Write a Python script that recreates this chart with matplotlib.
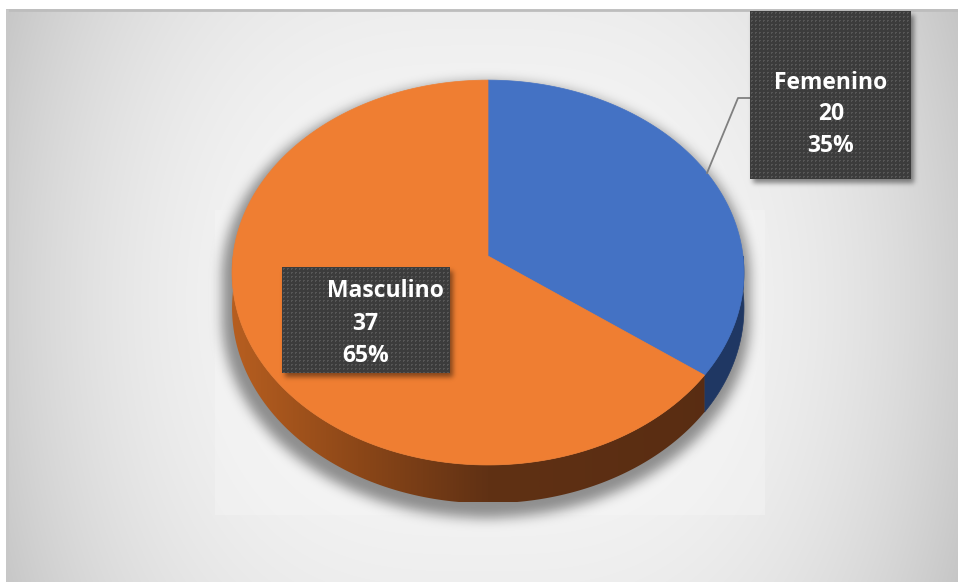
import numpy as np
import matplotlib.pyplot as plt
from matplotlib.patches import Polygon, Rectangle
from matplotlib.colors import LinearSegmentedColormap

labels = ["Femenino", "Masculino"]
counts = [20, 37]
pct_labels = ["35%", "65%"]
top_colors = ["#4472C4", "#EF7E32"]

W, H = 958, 582
fig = plt.figure(figsize=(W / 100, H / 100), dpi=100)
ax = fig.add_axes([0, 0, 1, 1])
ax.set_xlim(0, W)
ax.set_ylim(H, 0)
ax.axis("off")


def blur(img, sigma):
    r = int(3 * sigma)
    kern = np.exp(-np.arange(-r, r + 1) ** 2 / (2 * sigma ** 2))
    kern /= kern.sum()
    img = np.apply_along_axis(lambda m: np.convolve(m, kern, mode="same"), 0, img)
    img = np.apply_along_axis(lambda m: np.convolve(m, kern, mode="same"), 1, img)
    return img


# chart background: light centre fading to grey at the sides
yy, xx = np.mgrid[0:H, 0:W] + 0.5
gx = np.abs(xx - 480) / 480
gy = np.abs(yy - 300) / 300
shade = 0.97 - 0.16 * gx ** 3 - 0.04 * gy ** 2
ax.imshow(np.dstack([shade] * 3), extent=(0, W, H, 0), zorder=0, interpolation="bilinear")
ax.add_patch(Rectangle((0, 0), W, 9, fc="white", ec="none", zorder=0.5))
ax.add_patch(Rectangle((0, 0), 6, H, fc="white", ec="none", zorder=0.5))
ax.plot([6, W], [10, 10], color="#bdbdbd", lw=2, zorder=0.6, solid_capstyle="butt")
ax.plot([7, 7], [9, H], color="#c8c8c8", lw=2, zorder=0.6, solid_capstyle="butt")

# plot area
ax.add_patch(Rectangle((215, 210), 550, 305, fc="#f7f7f7", ec="none", alpha=0.4, zorder=1))

# 3D pie with slight perspective
cx, cy = 488, 256
a, b, k, depth = 255, 191, 0.086, 35


def proj(theta_deg, h=0.0):
    t = np.radians(theta_deg)
    s = 1 / (1 + k * np.sin(t))
    return cx + s * a * np.cos(t), cy - s * b * np.sin(t) + s * h


fracs = np.array(counts) / sum(counts)
edges = 90 - 360 * np.concatenate([[0], np.cumsum(fracs)])

# soft shadow round the pie
mask = np.zeros((H, W))
t_all = np.linspace(0, 360, 400)
for h in np.linspace(0, depth + 6, 12):
    px, py = proj(t_all, h)
    rx = (px.max() - px.min()) / 2 + 8
    ry = (py.max() - py.min()) / 2 + 3
    ex = (px.max() + px.min()) / 2 - 2
    ey = (py.max() + py.min()) / 2 + 5
    mask = np.maximum(mask, (((xx - ex) / rx) ** 2 + ((yy - ey) / ry) ** 2 <= 1).astype(float))
sh = blur(mask, 6)
shadow = np.zeros((H, W, 4))
shadow[..., 3] = sh * 0.42
ax.imshow(shadow, extent=(0, W, H, 0), zorder=2, interpolation="bilinear")

# side walls
side_cmap = LinearSegmentedColormap.from_list(
    "side", [(0, "#b85f20"), (0.25, "#8c4718"), (0.5, "#603114"), (1, "#582c12")]
)
for i in range(len(counts)):
    hi, lo = edges[i], edges[i + 1]
    lo_s, hi_s = max(lo, -180), min(hi, 0)
    if lo_s >= hi_s:
        continue
    t = np.linspace(lo_s, hi_s, 200)
    tx, ty = proj(t)
    bx, by = proj(t[::-1], depth)
    pts = np.column_stack([np.concatenate([tx, bx]), np.concatenate([ty, by])])
    if i == 0:
        ax.add_patch(Polygon(pts, closed=True, fc="#1f3763", ec="#1f3763", lw=0.5, zorder=3))
    else:
        wall = Polygon(pts, closed=True, fc="none", ec="none", zorder=3)
        ax.add_patch(wall)
        grad = np.linspace(0, 1, 512).reshape(1, -1)
        im = ax.imshow(grad, cmap=side_cmap, extent=(cx - a - 5, cx + a + 5, cy + b + depth + 20, cy - 10),
                       aspect="auto", zorder=3, interpolation="bilinear")
        im.set_clip_path(wall)

# top face
for i in range(len(counts)):
    t = np.linspace(edges[i], edges[i + 1], 300)
    tx, ty = proj(t)
    pts = np.column_stack([np.concatenate([[cx], tx]), np.concatenate([[cy], ty])])
    ax.add_patch(Polygon(pts, closed=True, fc=top_colors[i], ec=top_colors[i], lw=0.5, zorder=4))

# leader line for the Femenino label
mid0 = (edges[0] + edges[1]) / 2
lx, ly = proj(mid0)
ax.plot([750, 738, lx], [98, 98, ly], color="#808080", lw=1.3, zorder=5)

# data label boxes
boxes = [(750, 11, 161, 168), (282, 267, 168, 106)]
bmask = np.zeros((H, W))
for bx0, by0, bw, bh in boxes:
    bmask[by0 + 4:by0 + bh + 4, bx0 + 3:bx0 + bw + 3] = 1
bsh = np.zeros((H, W, 4))
bsh[..., 3] = blur(bmask, 2.5) * 0.45
ax.imshow(bsh, extent=(0, W, H, 0), zorder=6, interpolation="bilinear")

for bx0, by0, bw, bh in boxes:
    tex = np.zeros((bh, bw, 3))
    tex[:] = np.array([0x3c, 0x3c, 0x3c]) / 255
    dot = np.array([0x56, 0x56, 0x56]) / 255
    tex[1::4, 1::4] = dot
    tex[2::4, 1::4] = dot
    tex[1::4, 2::4] = dot
    ax.imshow(tex, extent=(bx0, bx0 + bw, by0 + bh, by0), zorder=7, interpolation="nearest")

txt = dict(color="white", fontsize=16.5, fontweight="bold", family=["Open Sans", "DejaVu Sans"],
           ha="center", va="baseline", zorder=8)
ax.text(831, 89, labels[0], **txt)
ax.text(831, 120.5, str(counts[0]), **txt)
ax.text(831, 152, pct_labels[0], **txt)
ax.text(385, 297, labels[1], **txt)
ax.text(365, 330, str(counts[1]), **txt)
ax.text(366, 362, pct_labels[1], **txt)

ax.set_xlim(0, W)
ax.set_ylim(H, 0)
fig.savefig("out.png", dpi=100)
